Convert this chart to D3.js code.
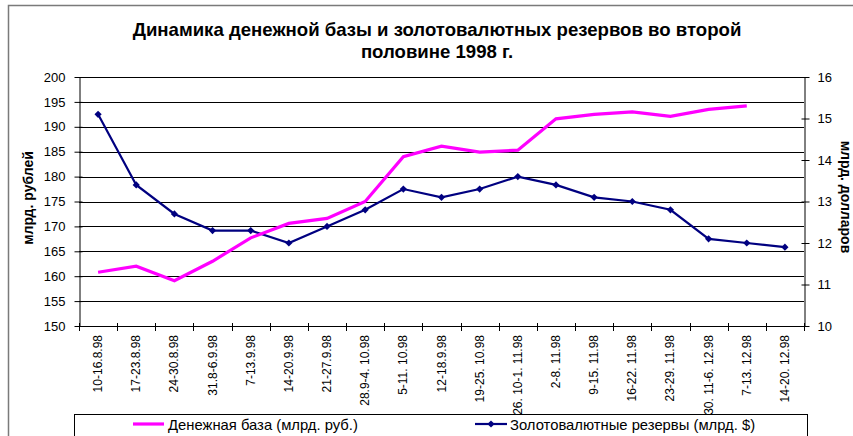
<!DOCTYPE html>
<html>
<head>
<meta charset="utf-8">
<script src="https://cdn.jsdelivr.net/npm/d3@7"></script>
<style>
  body { margin: 0; background: #fff; }
  text { font-family: "Liberation Sans", Arial, sans-serif; }
</style>
</head>
<body>
<script>
// недели (подписи оси X)
var weeks = ["10-16.8.98", "17-23.8.98", "24-30.8.98", "31.8-6.9.98", "7-13.9.98", "14-20.9.98",
    "21-27.9.98", "28.9-4. 10.98", "5-11. 10.98", "12-18.9.98", "19-25. 10.98", "26. 10-1. 11.98",
    "2-8. 11.98", "9-15. 11.98", "16-22. 11.98", "23-29. 11.98", "30. 11-6. 12.98", "7-13. 12.98", "14-20. 12.98"];
// денежная база, млрд. руб. (левая ось)
var moneyBase = [160.8, 162, 159.1, 163, 167.7, 170.6, 171.6, 175, 184, 186.1, 184.9, 185.3,
    191.6, 192.5, 193, 192.1, 193.5, 194.2, null];
// золотовалютные резервы, млрд. $ (правая ось)
var reserves = [15.1, 13.4, 12.7, 12.3, 12.3, 12.0, 12.4, 12.8, 13.3, 13.1, 13.3, 13.6,
    13.4, 13.1, 13.0, 12.8, 12.1, 12.0, 11.9];
var leftTicks = [150, 155, 160, 165, 170, 175, 180, 185, 190, 195, 200];
var rightTicks = [10, 11, 12, 13, 14, 15, 16];

var svg = d3.select("body").append("svg").attr("width", 853).attr("height", 436);

// рамка диаграммы
svg.append("rect").attr("x", 8.5).attr("y", 5.5).attr("width", 900).attr("height", 500)
    .attr("fill", "none").attr("stroke", "#7a7a7a").attr("stroke-width", 1.5);

var margin = { top: 77, left: 79, right: 804, bottom: 326 };

var x = d3.scaleBand().domain(weeks).range([margin.left, margin.right]);
var yL = d3.scaleLinear().domain([150, 200]).range([margin.bottom, margin.top]);
var yR = d3.scaleLinear().domain([10, 16]).range([margin.bottom, margin.top]);
function cx(d) { return x(d) + x.bandwidth() / 2; }

// заголовок
var title = svg.append("text").attr("text-anchor", "middle").attr("font-weight", "bold").attr("font-size", 18.6);
title.append("tspan").attr("x", 437).attr("y", 36).text("Динамика денежной базы и золотовалютных резервов во второй");
title.append("tspan").attr("x", 437).attr("y", 58).text("половине 1998 г.");

// сетка
svg.append("g").selectAll("line").data(leftTicks.slice(1)).enter().append("line")
    .attr("x1", margin.left).attr("x2", margin.right)
    .attr("y1", function (d) { return Math.round(yL(d)) + 0.5; })
    .attr("y2", function (d) { return Math.round(yL(d)) + 0.5; })
    .attr("stroke", "#000").attr("stroke-width", 1);

// левая ось
var gl = svg.append("g").attr("transform", "translate(" + (margin.left + 0.5) + ",0)")
    .call(d3.axisLeft(yL).tickValues(leftTicks).tickSize(5).tickSizeOuter(0).tickPadding(9));
gl.selectAll(".tick line").attr("x2", -5).attr("x1", 3).attr("stroke", "#000");
gl.selectAll("text").attr("font-size", 13).attr("fill", "#000").attr("font-family", "Liberation Sans, Arial");
gl.select(".domain").attr("stroke", "#000");

// правая ось
var gr = svg.append("g").attr("transform", "translate(" + (margin.right + 0.5) + ",0)")
    .call(d3.axisRight(yR).tickValues(rightTicks).tickFormat(d3.format("d")).tickSize(5).tickSizeOuter(0).tickPadding(8));
gr.selectAll(".tick line").attr("x1", -3).attr("x2", 5).attr("stroke", "#000");
gr.selectAll("text").attr("font-size", 13).attr("fill", "#000").attr("font-family", "Liberation Sans, Arial");
gr.select(".domain").attr("stroke", "#000");

// ось X
svg.append("line").attr("x1", margin.left).attr("x2", margin.right)
    .attr("y1", margin.bottom + 0.5).attr("y2", margin.bottom + 0.5).attr("stroke", "#000");
var bounds = weeks.map(function (d) { return x(d); }).concat([margin.right]);
svg.append("g").selectAll("line").data(bounds).enter().append("line")
    .attr("x1", function (d) { return Math.round(d) + 0.5; })
    .attr("x2", function (d) { return Math.round(d) + 0.5; })
    .attr("y1", margin.bottom - 3).attr("y2", margin.bottom + 5).attr("stroke", "#000");
svg.append("g").selectAll("text").data(weeks).enter().append("text")
    .attr("transform", function (d) { return "translate(" + (cx(d) + 4) + "," + (margin.bottom + 9) + ") rotate(-90)"; })
    .attr("text-anchor", "end").attr("font-size", 12).text(function (d) { return d; });

// подписи осей
svg.append("text").attr("transform", "translate(33,198) rotate(-90)").attr("text-anchor", "middle")
    .attr("font-weight", "bold").attr("font-size", 14).text("млрд. рублей");
svg.append("text").attr("transform", "translate(841,197) rotate(90)").attr("text-anchor", "middle")
    .attr("font-weight", "bold").attr("font-size", 14).text("млрд. долларов");

// линии
var lineL = d3.line().defined(function (d) { return d[1] != null; })
    .x(function (d) { return cx(d[0]); }).y(function (d) { return yL(d[1]); });
var lineR = d3.line().defined(function (d) { return d[1] != null; })
    .x(function (d) { return cx(d[0]); }).y(function (d) { return yR(d[1]); });
var mbData = weeks.map(function (w, i) { return [w, moneyBase[i]]; });
var rsData = weeks.map(function (w, i) { return [w, reserves[i]]; });

svg.append("path").datum(rsData).attr("d", lineR).attr("fill", "none")
    .attr("stroke", "#000080").attr("stroke-width", 2.2);
svg.append("g").selectAll("path").data(rsData).enter().append("path")
    .attr("d", d3.symbol().type(d3.symbolSquare).size(26))
    .attr("transform", function (d) { return "translate(" + cx(d[0]) + "," + yR(d[1]) + ") rotate(45)"; })
    .attr("fill", "#000080");
svg.append("path").datum(mbData).attr("d", lineL).attr("fill", "none")
    .attr("stroke", "#ff00ff").attr("stroke-width", 3.2);

// легенда
svg.append("rect").attr("x", 74.5).attr("y", 414.5).attr("width", 733).attr("height", 60)
    .attr("fill", "#fff").attr("stroke", "#000");
svg.append("line").attr("x1", 133).attr("x2", 164).attr("y1", 424).attr("y2", 424)
    .attr("stroke", "#ff00ff").attr("stroke-width", 3.2);
svg.append("text").attr("x", 168).attr("y", 429.5).attr("font-size", 14.8).text("Денежная база (млрд. руб.)");
svg.append("line").attr("x1", 475).attr("x2", 507).attr("y1", 424).attr("y2", 424)
    .attr("stroke", "#000080").attr("stroke-width", 2.2);
svg.append("path").attr("d", d3.symbol().type(d3.symbolSquare).size(26))
    .attr("transform", "translate(491,424) rotate(45)").attr("fill", "#000080");
svg.append("text").attr("x", 510).attr("y", 429.5).attr("font-size", 14.8).text("Золотовалютные резервы (млрд. $)");
</script>
</body>
</html>
